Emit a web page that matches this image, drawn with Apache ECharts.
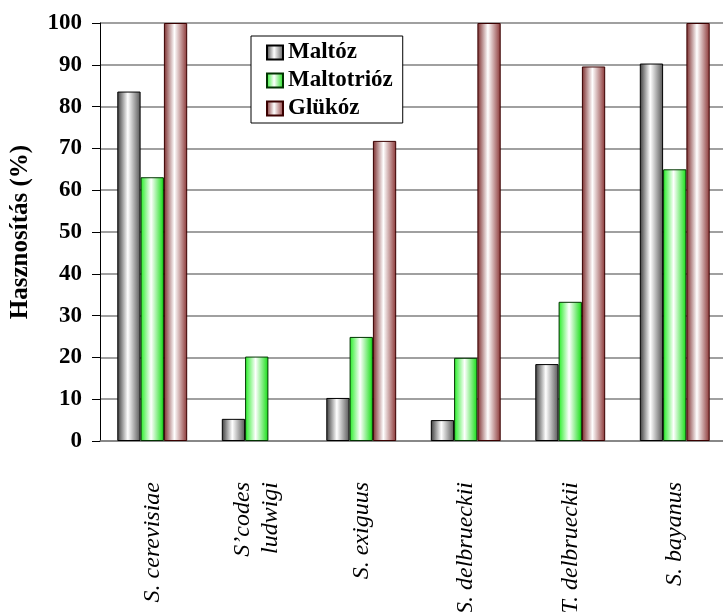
<!DOCTYPE html>
<html><head><meta charset="utf-8">
<script src="https://cdn.jsdelivr.net/npm/echarts@6/dist/echarts.min.js"></script>
<style>html,body{margin:0;padding:0;background:#fff}#c{width:723px;height:612px}</style>
</head><body><div id="c"></div>
<script>
var categories = ['S. cerevisiae', "S\u2019codes\nludwigi", 'S. exiguus', 'S. delbrueckii', 'T. delbrueckii', 'S. bayanus'];
var maltoz = [83.6, 5.3, 10.3, 5.0, 18.4, 90.3];
var maltotrioz = [63.1, 20.2, 24.9, 19.9, 33.3, 65.0];
var glukoz = [100, null, 71.8, 100, 89.6, 100];
var seriesNames = ['Maltóz', 'Maltotrióz', 'Glükóz'];

function grad(edgeL, mid, edgeR) {
  return new echarts.graphic.LinearGradient(0, 0, 1, 0, [
    {offset: 0, color: edgeL}, {offset: 0.45, color: mid}, {offset: 1, color: edgeR}
  ]);
}
var font = '"Liberation Serif", "Times New Roman", serif';
var chart = echarts.init(document.getElementById('c'));
chart.setOption({
  animation: false,
  backgroundColor: '#fff',
  grid: {left: 100, top: 23, bottom: 171, width: 627, containLabel: false, outerBoundsMode: 'none'},
  legend: {
    orient: 'vertical', left: 251, top: 36,
    data: seriesNames, icon: 'rect',
    backgroundColor: '#fff', borderColor: '#000', borderWidth: 1,
    padding: [5, 10, 3, 15], itemWidth: 16, itemHeight: 14, itemGap: 5,
    textStyle: {fontFamily: font, fontWeight: 'bold', fontSize: 23, color: '#000'}
  },
  xAxis: {
    type: 'category', data: categories,
    axisLine: {show: true, lineStyle: {color: '#808080', width: 1.5}},
    axisTick: {show: false},
    axisLabel: {rotate: 90, margin: 41, interval: 0, fontFamily: font, fontStyle: 'italic', fontSize: 24, color: '#000', lineHeight: 28, align: 'right'}
  },
  yAxis: {
    type: 'value', min: 0, max: 100, interval: 10,
    name: 'Hasznosítás (%)', nameLocation: 'middle', nameGap: 67,
    nameTextStyle: {fontFamily: font, fontWeight: 'bold', fontSize: 25, color: '#000'},
    axisLine: {show: true, lineStyle: {color: '#000', width: 1}},
    axisTick: {show: true, inside: false, length: 8, lineStyle: {color: '#000'}},
    axisLabel: {margin: 18, fontFamily: font, fontWeight: 'bold', fontSize: 23, color: '#000'},
    splitLine: {show: true, lineStyle: {color: '#808080', width: 1.5}}
  },
  series: [
    {name: seriesNames[0], type: 'bar', data: maltoz, barWidth: 23.3, barGap: '0%',
     itemStyle: {color: grad('#3a3a3a', '#ffffff', '#555555'), borderColor: '#000', borderWidth: 1}},
    {name: seriesNames[1], type: 'bar', data: maltotrioz, barWidth: 23.3, barGap: '0%',
     itemStyle: {color: grad('#22ee22', '#ffffff', '#11dd11'), borderColor: '#003300', borderWidth: 1}},
    {name: seriesNames[2], type: 'bar', data: glukoz, barWidth: 23.3, barGap: '0%',
     itemStyle: {color: grad('#7a2a2a', '#ffffff', '#8a3535'), borderColor: '#3a0000', borderWidth: 1}}
  ]
});
</script></body></html>
